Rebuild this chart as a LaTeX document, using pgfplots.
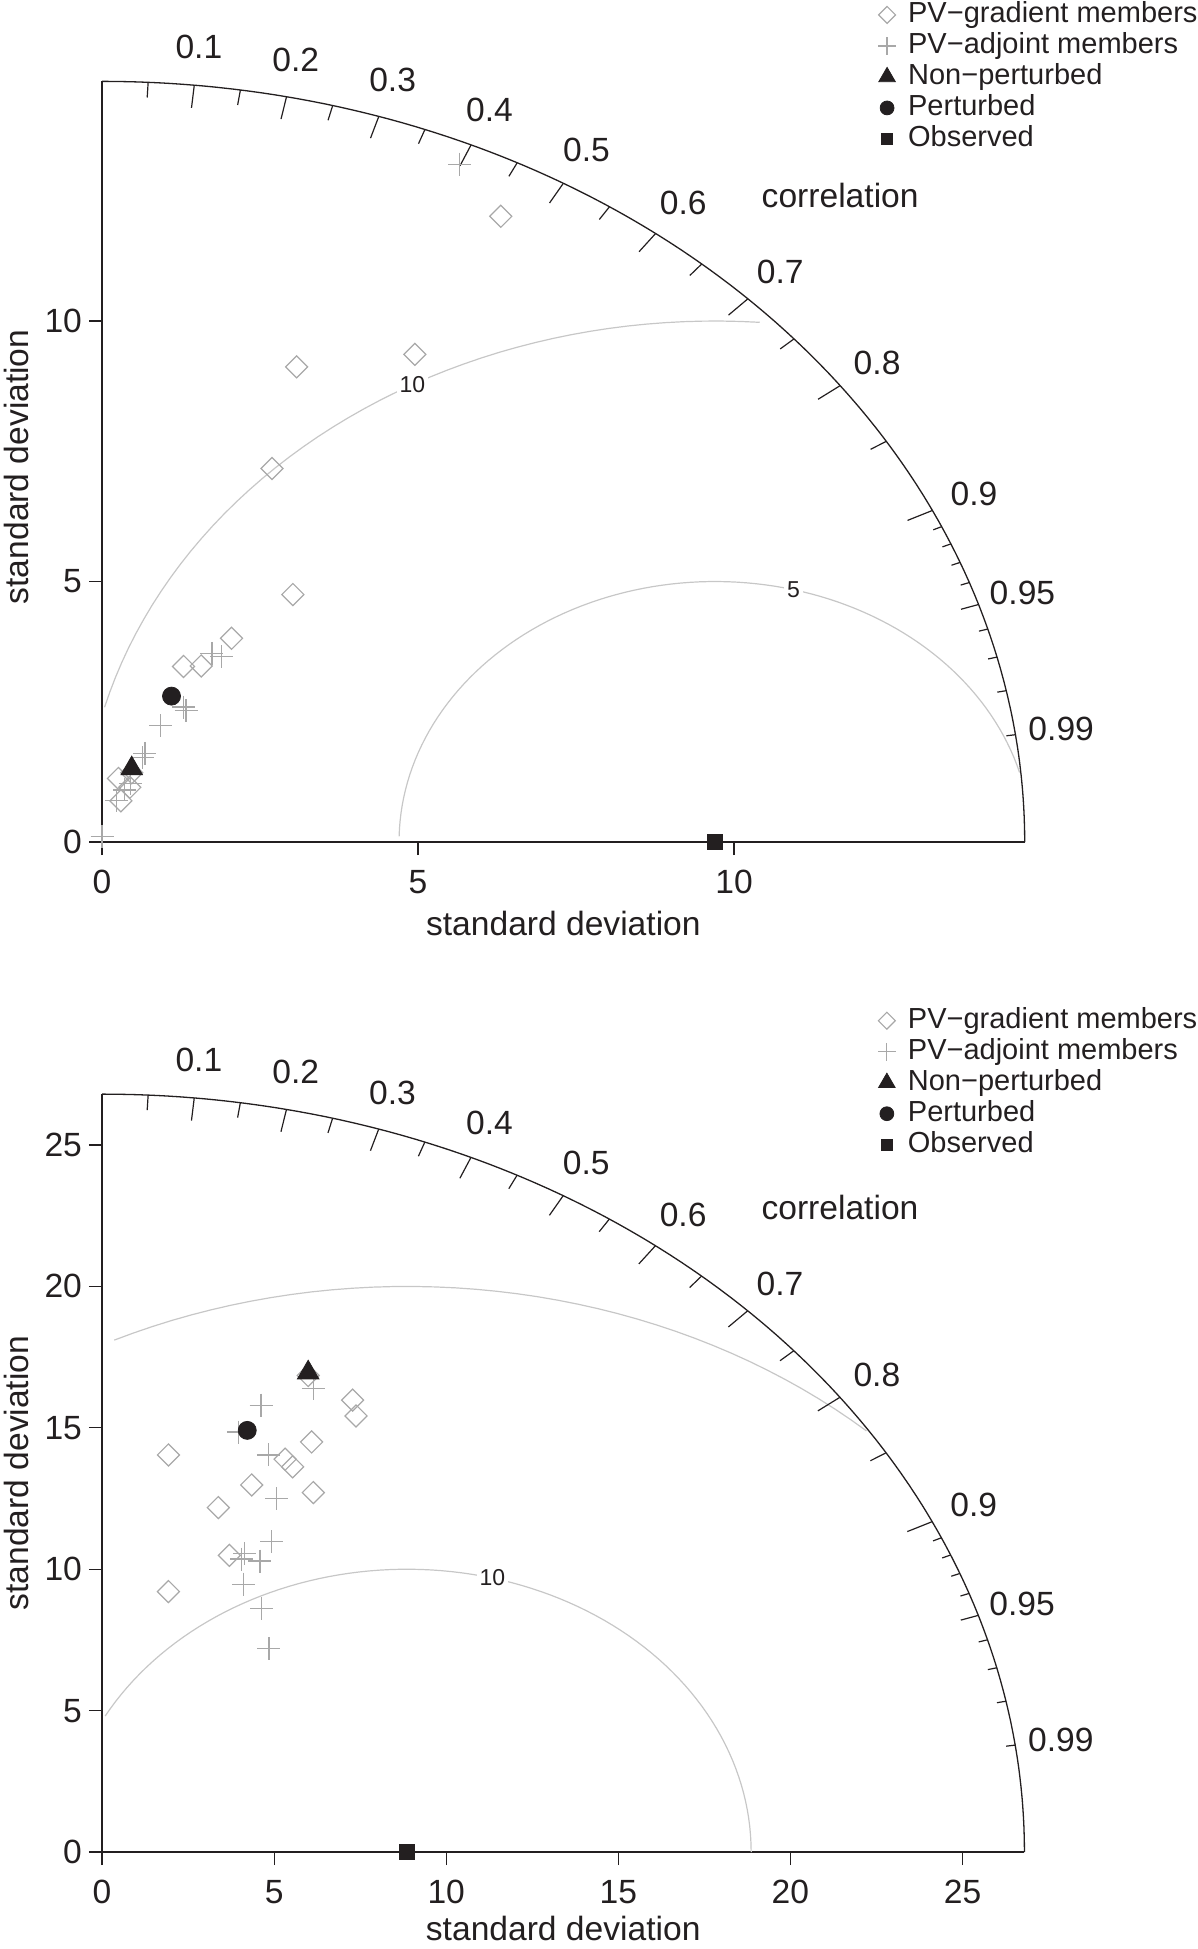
\documentclass[border=0pt]{standalone}
\usepackage{fontspec}
\setmainfont{Liberation Sans}
\usepackage{pgfplots}
\pgfplotsset{compat=1.18}
\definecolor{mk}{gray}{0.66}
\definecolor{ct}{gray}{0.78}
\definecolor{ink}{HTML}{231F20}
\newcommand{\bigf}{\fontsize{16.8}{19}\selectfont}
\newcommand{\legf}{\fontsize{14.5}{16}\selectfont}
\newcommand{\smf}{\fontsize{11.5}{13}\selectfont}
\def\Rt{14.6}
\def\Rb{26.8}
\pgfplotsset{
  taylor/.style={
    enlargelimits=false, clip=false,
    axis x line*=bottom, axis y line*=left,
    axis line style={-, line width=0.6pt, ink},
    tick align=outside, major tick length=6.5pt,
    tick style={line width=0.6pt, ink},
    minor tick num=0,
    ticklabel style={font=\bigf, text=ink},
    xticklabel style={yshift=-4pt},
    /pgf/number format/assume math mode=true,
    legend style={draw=none, fill=none, inner sep=0pt, font=\legf, text=ink, anchor=north west, row sep=0pt,
      nodes={inner sep=0.5pt, text height=11pt, text depth=3.5pt},
      /tikz/every odd column/.append style={column sep=5.6pt}},
    legend cell align=left,
    legend image code/.code={\draw[mark repeat=2,mark phase=2,##1,/tikz/every mark/.append style={scale=0.77}] plot coordinates {(0pt,0pt) (6pt,0pt) (12pt,0pt)};},
  },
  gradmk/.style={only marks, mark=square, mark size=3.9pt, mark options={rotate=45, draw=mk, line width=0.6pt}},
  adjmk/.style={only marks, mark=+, mark size=5.75pt, mark options={draw=mk, line width=0.6pt}},
  nonmk/.style={only marks, mark=triangle*, mark size=6.2pt, mark options={draw=ink, fill=ink}},
  permk/.style={only marks, mark=*, mark size=4.5pt, mark options={draw=ink, fill=ink}},
  obsmk/.style={only marks, mark=square*, mark size=3.75pt, mark options={draw=ink, fill=ink}},
}
\begin{document}
\begin{tikzpicture}
\path[use as bounding box] (0,0) rectangle (599pt,-974.5pt);

% ---------------- top diagram ----------------
\begin{axis}[taylor, at={(51pt,-421pt)}, anchor=south west,
  x=31.6pt, y=26.05pt, xmin=0, xmax=14.6, ymin=0, ymax=14.6,
  xtick={0,5,10}, ytick={0,5,10},
  legend style={at={(0.8408,1.1082)}}]
% outer arc
\addplot[ink, line width=0.65pt, domain=0:90, samples=200, forget plot] ({\Rt*cos(x)},{\Rt*sin(x)});
% RMS contours
\addplot[ct, line width=0.6pt, domain=0.27:3.12, samples=96, variable=\t, forget plot] ({9.7+5*cos(deg(\t))},{5*sin(deg(\t))});
\addplot[ct, line width=0.6pt, domain=1.50:2.88, samples=47, variable=\t, forget plot] ({9.7+10*cos(deg(\t))},{10*sin(deg(\t))});
% correlation ticks
\pgfplotsinvokeforeach{0.1,0.2,0.3,0.4,0.5,0.6,0.7,0.8,0.9}{
  \draw[ink, line width=0.6pt] (axis cs:{\Rt*#1},{\Rt*sqrt(1-(#1)^2)}) -- (axis cs:{0.97*\Rt*#1},{0.97*\Rt*sqrt(1-(#1)^2)});
  \node[font=\bigf, text=ink] at (axis cs:{1.05*\Rt*#1},{1.05*\Rt*sqrt(1-(#1)^2)}) {#1};
}
\pgfplotsinvokeforeach{0.05,0.15,0.25,0.35,0.45,0.55,0.65,0.75,0.85,0.95}{
  \draw[ink, line width=0.6pt] (axis cs:{\Rt*#1},{\Rt*sqrt(1-(#1)^2)}) -- (axis cs:{0.98*\Rt*#1},{0.98*\Rt*sqrt(1-(#1)^2)});
}
\pgfplotsinvokeforeach{0.91,0.92,0.93,0.94,0.96,0.97,0.98,0.99}{
  \draw[ink, line width=0.6pt] (axis cs:{\Rt*#1},{\Rt*sqrt(1-(#1)^2)}) -- (axis cs:{0.99*\Rt*#1},{0.99*\Rt*sqrt(1-(#1)^2)});
}
\node[font=\bigf, text=ink] at (axis cs:{1.05*\Rt*0.95},{1.05*\Rt*sqrt(1-0.95^2)}) {0.95};
\node[font=\bigf, text=ink] at (axis cs:{1.05*\Rt*0.99},{1.05*\Rt*sqrt(1-0.99^2)}) {0.99};
\node[font=\bigf, text=ink] at (axis cs:{0.8*\Rt},{0.85*\Rt}) {correlation};
\node[font=\smf, text=ink, fill=white, inner sep=1.5pt] at (axis cs:10.94,4.84) {5};
\node[font=\smf, text=ink, fill=white, inner sep=1.5pt] at (axis cs:4.91,8.78) {10};
% axis titles
\node[font=\bigf, text=ink] at ([yshift=-40.5pt]axis cs:7.3,0) {standard deviation};
\node[font=\bigf, text=ink, rotate=90] at ([xshift=-42.75pt]axis cs:0,7.2) {standard deviation};
% data
\addplot[gradmk] coordinates {(6.31,12.01) (4.95,9.36) (3.08,9.12) (2.69,7.17) (3.02,4.75) (2.05,3.91) (1.57,3.38) (1.29,3.37) (0.47,1.33) (0.26,1.22) (0.44,1.05) (0.30,0.79)};
\addlegendentry{PV−gradient members}
\addplot[adjmk] coordinates {(5.66,13.01) (1.74,3.62) (1.89,3.56) (1.29,2.59) (1.33,2.52) (0.93,2.23) (0.68,1.70) (0.64,1.62) (0.45,1.12) (0.36,1.00) (0.23,0.79) (0.00,0.11)};
\addlegendentry{PV−adjoint members}
\addplot[nonmk] coordinates {(0.47,1.41)};
\addlegendentry{Non−perturbed}
\addplot[permk] coordinates {(1.10,2.80)};
\addlegendentry{Perturbed}
\addplot[obsmk] coordinates {(9.7,0)};
\addlegendentry{Observed}
\end{axis}

% ---------------- bottom diagram ----------------
\begin{axis}[taylor, at={(51pt,-926pt)}, anchor=south west,
  x=17.21pt, y=14.14pt, xmin=0, xmax=26.8, ymin=0, ymax=26.8,
  xtick={0,5,10,15,20,25}, ytick={0,5,10,15,20,25},
  legend style={at={(0.8408,1.1178)}}]
\addplot[ink, line width=0.65pt, domain=0:90, samples=200, forget plot] ({\Rb*cos(x)},{\Rb*sin(x)});
\addplot[ct, line width=0.6pt, domain=0:2.64, samples=89, variable=\t, forget plot] ({8.86+10*cos(deg(\t))},{10*sin(deg(\t))});
\addplot[ct, line width=0.6pt, domain=0.84:2.01, samples=40, variable=\t, forget plot] ({8.86+20*cos(deg(\t))},{20*sin(deg(\t))});
\pgfplotsinvokeforeach{0.1,0.2,0.3,0.4,0.5,0.6,0.7,0.8,0.9}{
  \draw[ink, line width=0.6pt] (axis cs:{\Rb*#1},{\Rb*sqrt(1-(#1)^2)}) -- (axis cs:{0.97*\Rb*#1},{0.97*\Rb*sqrt(1-(#1)^2)});
  \node[font=\bigf, text=ink] at (axis cs:{1.05*\Rb*#1},{1.05*\Rb*sqrt(1-(#1)^2)}) {#1};
}
\pgfplotsinvokeforeach{0.05,0.15,0.25,0.35,0.45,0.55,0.65,0.75,0.85,0.95}{
  \draw[ink, line width=0.6pt] (axis cs:{\Rb*#1},{\Rb*sqrt(1-(#1)^2)}) -- (axis cs:{0.98*\Rb*#1},{0.98*\Rb*sqrt(1-(#1)^2)});
}
\pgfplotsinvokeforeach{0.91,0.92,0.93,0.94,0.96,0.97,0.98,0.99}{
  \draw[ink, line width=0.6pt] (axis cs:{\Rb*#1},{\Rb*sqrt(1-(#1)^2)}) -- (axis cs:{0.99*\Rb*#1},{0.99*\Rb*sqrt(1-(#1)^2)});
}
\node[font=\bigf, text=ink] at (axis cs:{1.05*\Rb*0.95},{1.05*\Rb*sqrt(1-0.95^2)}) {0.95};
\node[font=\bigf, text=ink] at (axis cs:{1.05*\Rb*0.99},{1.05*\Rb*sqrt(1-0.99^2)}) {0.99};
\node[font=\bigf, text=ink] at (axis cs:{0.8*\Rb},{0.85*\Rb}) {correlation};
\node[font=\smf, text=ink, fill=white, inner sep=1.5pt] at (axis cs:11.34,9.69) {10};
\node[font=\bigf, text=ink] at ([yshift=-38pt]axis cs:13.4,0) {standard deviation};
\node[font=\bigf, text=ink, rotate=90] at ([xshift=-42.75pt]axis cs:0,13.4) {standard deviation};
\addplot[gradmk] coordinates {(5.99,16.85) (7.28,15.98) (7.38,15.42) (6.09,14.50) (1.93,14.04) (5.32,13.89) (5.54,13.62) (4.35,12.98) (6.14,12.71) (3.38,12.18) (3.70,10.49) (1.93,9.21)};
\addlegendentry{PV−gradient members}
\addplot[adjmk] coordinates {(6.14,16.39) (4.62,15.80) (3.96,14.85) (4.83,14.04) (5.07,12.50) (4.93,10.98) (4.14,10.55) (4.05,10.36) (4.59,10.29) (4.11,9.47) (4.64,8.61) (4.85,7.19)};
\addlegendentry{PV−adjoint members}
\addplot[nonmk] coordinates {(5.99,16.95)};
\addlegendentry{Non−perturbed}
\addplot[permk] coordinates {(4.22,14.91)};
\addlegendentry{Perturbed}
\addplot[obsmk] coordinates {(8.86,0)};
\addlegendentry{Observed}
\end{axis}
\end{tikzpicture}
\end{document}
